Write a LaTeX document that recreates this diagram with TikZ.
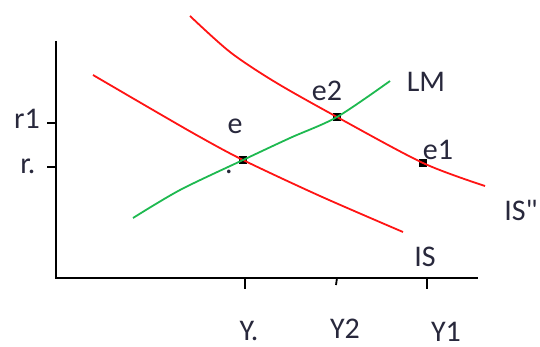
\documentclass[tikz,border=0pt]{standalone}
\usepackage{fontspec}
\newfontfamily\lblfont{Carlito}
\definecolor{isred}{RGB}{255,20,20}
\definecolor{lmgreen}{RGB}{30,185,80}
\definecolor{txt}{RGB}{40,40,60}
\begin{document}
\begin{tikzpicture}[x=0.5pt,y=-0.5pt,
  axis/.style={line width=1pt,black},
  tickmark/.style={line width=0.9pt,black},
  isline/.style={line width=0.9pt,isred},
  lmline/.style={line width=0.9pt,lmgreen},
  lbl/.style={font=\lblfont\fontsize{15}{18}\selectfont,text=txt,inner sep=0pt},
  pt/.style={draw=black,fill=black,minimum size=3.5pt,inner sep=0pt,rectangle}]
\useasboundingbox (0,0) rectangle (540,347);
% axes
\coordinate (ytop) at (56,41);
\coordinate (orig) at (56,278);
\coordinate (xend) at (478,278);
\draw[axis] (ytop) -- (orig) -- (xend);
% y ticks
\coordinate (tr1) at (47,123);
\coordinate (tr1a) at (56,123);
\coordinate (tr) at (47,167);
\coordinate (tra) at (56,167);
\draw[tickmark] (tr1) -- (tr1a);
\draw[tickmark] (tr) -- (tra);
% x ticks
\coordinate (tx1) at (245,278);
\coordinate (tx1b) at (245,289);
\coordinate (tx2) at (337,278);
\coordinate (tx2b) at (336,285);
\coordinate (tx3) at (427,278);
\coordinate (tx3b) at (427,289);
\draw[tickmark] (tx1) -- (tx1b);
\draw[tickmark] (tx2) -- (tx2b);
\draw[tickmark] (tx3) -- (tx3b);
% equilibrium points
\node[pt] (e) at (243,160) {};
\node[pt] (e2) at (337,117) {};
\node[pt] (e1) at (423,163) {};
% IS curve
\coordinate (is0) at (93,75);
\coordinate (is1) at (153,110);
\coordinate (is2) at (200,137);
\coordinate (is3) at (320,196);
\coordinate (is4) at (403,232);
\draw[isline] plot[smooth,tension=0.5] coordinates {(is0) (is1) (is2) (e.center) (is3) (is4)};
% IS'' curve
\coordinate (js0) at (190,16);
\coordinate (js1) at (230,52);
\coordinate (js2) at (275,82);
\coordinate (js3) at (485,186);
\draw[isline] plot[smooth,tension=0.5] coordinates {(js0) (js1) (js2) (e2.center) (e1.center) (js3)};
% LM curve
\coordinate (lm0) at (133,218);
\coordinate (lm1) at (180,190);
\coordinate (lm2) at (290,138);
\coordinate (lm3) at (390,81);
\draw[lmline] plot[smooth,tension=0.5] coordinates {(lm0) (lm1) (e.center) (lm2) (e2.center) (lm3)};
% labels
\node[lbl] (lr1) at (27,119) {r1};
\node[lbl] (lr) at (28,166) {r.};
\node[lbl] (le) at (235,126) {e};
\node[lbl] (ldot) at (229,172) {.};
\node[lbl] (le2) at (327,91) {e2};
\node[lbl] (le1) at (438,150) {e1};
\node[lbl] (llm) at (426,82) {LM};
\node[lbl] (lis) at (425,257) {IS};
\node[lbl] (liss) at (521,210) {IS"};
\node[lbl] (ly) at (249,331) {Y.};
\node[lbl] (ly2) at (345,329) {Y2};
\node[lbl] (ly1) at (446,332) {Y1};
\end{tikzpicture}
\end{document}
